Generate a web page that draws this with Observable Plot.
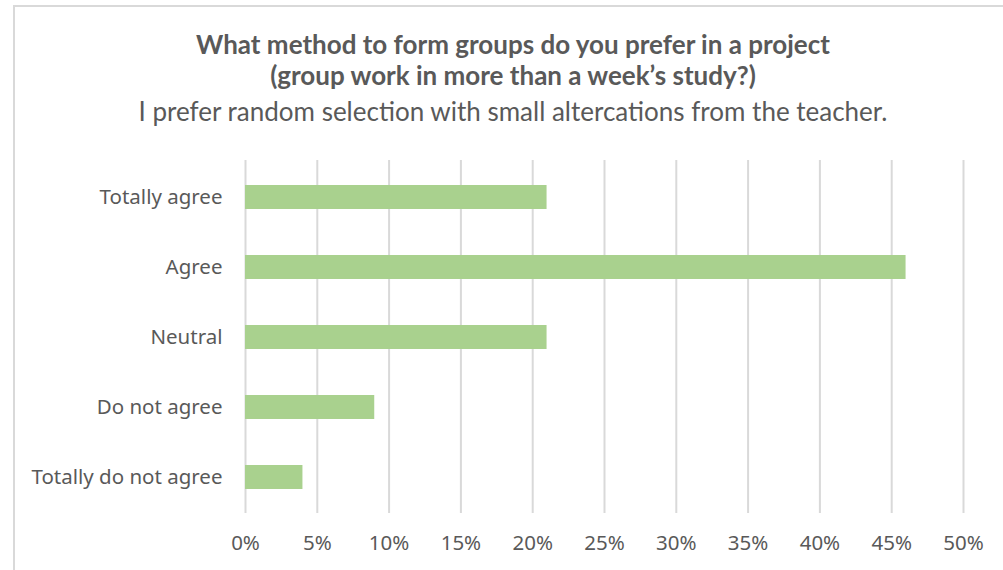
<!DOCTYPE html>
<html>
<head>
<meta charset="utf-8">
<script src="https://cdn.jsdelivr.net/npm/d3@7"></script>
<script src="https://cdn.jsdelivr.net/npm/@observablehq/plot@0.6"></script>
<style>
  html, body { margin: 0; padding: 0; background: #fff; overflow: hidden; width: 1003px; height: 570px; }
  #frame { position: absolute; left: 13px; top: 5px; width: 1020px; height: 620px; border: 2px solid #d9d9d9; box-sizing: border-box; }
  .t { position: absolute; left: 13px; width: 1000px; text-align: center; color: #595959; white-space: nowrap; font-family: Lato, "Open Sans", sans-serif; line-height: 32px; }
  #t1 { top: 28px; font-size: 26px; font-weight: 700; }
  #t2 { top: 59px; font-size: 26px; font-weight: 700; }
  #t3 { top: 95px; font-size: 26px; font-weight: 400; }
  #chart { position: absolute; left: 0; top: 140px; }
  #chart svg text { font-family: "Noto Sans", "Open Sans", sans-serif; }
</style>
</head>
<body>
<div id="frame"></div>
<div class="t" id="t1">What method to form groups do you prefer in a project</div>
<div class="t" id="t2">(group work in more than a week’s study?)</div>
<div class="t" id="t3">I prefer random selection with small altercations from the teacher.</div>
<div id="chart"></div>
<script>
const categories = ["Totally agree", "Agree", "Neutral", "Do not agree", "Totally do not agree"];
const values = [21, 46, 21, 9, 4];
const xTicks = [0, 5, 10, 15, 20, 25, 30, 35, 40, 45, 50];

const data = categories.map((c, i) => ({category: c, value: values[i]}));

const plot = Plot.plot({
  width: 1003,
  height: 430,
  marginLeft: 245,
  marginRight: 40,
  marginTop: 20,
  marginBottom: 57,
  style: {fontFamily: "'Noto Sans', sans-serif", fontSize: "20.5px", color: "#595959", background: "transparent"},
  x: {domain: [0, 50], ticks: xTicks, tickFormat: d => d + "%", label: null},
  y: {domain: categories, paddingInner: 0.66, paddingOuter: 0.33, label: null},
  marks: [
    Plot.ruleX(xTicks, {stroke: "#d9d9d9", strokeWidth: 2, strokeOpacity: 1}),
    Plot.barX(data, {x: "value", y: "category", fill: "#a9d18e"}),
    Plot.axisX({ticks: xTicks, tickFormat: d => d + "%", tickSize: 0, tickPadding: 22, fill: "#595959", label: null}),
    Plot.axisY({tickSize: 0, tickPadding: 23, fill: "#595959", label: null})
  ]
});
document.getElementById("chart").appendChild(plot);
</script>
</body>
</html>
